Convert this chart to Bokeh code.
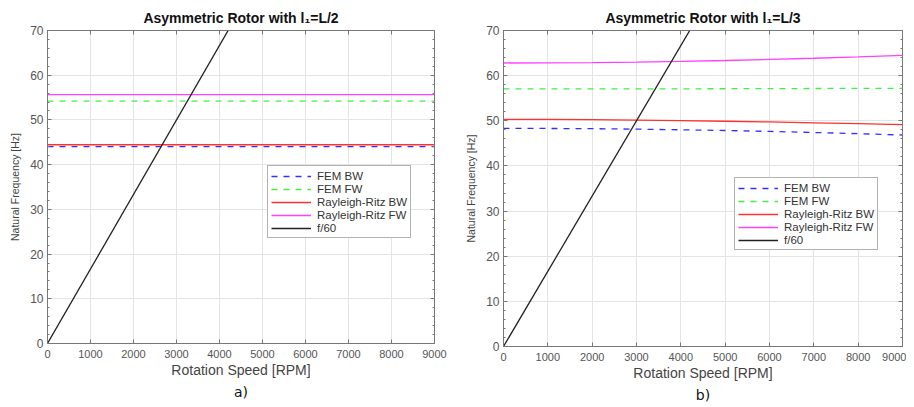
from bokeh.plotting import figure
from bokeh.layouts import row
from bokeh.models import (Range1d, FixedTicker, LinearAxis, Title, Legend, LegendItem)
from bokeh.embed import file_html
from bokeh.resources import INLINE

rpm = [0, 1000, 2000, 3000, 4000, 5000, 6000, 7000, 8000, 9000]

# Panel a) l1 = L/2
a_fem_bw = [44.05] * 10
a_fem_fw = [54.2] * 10
a_rr_bw = [44.45] * 10
a_rr_fw = [55.65] * 10

# Panel b) l1 = L/3
b_fem_bw = [48.3, 48.3, 48.25, 48.15, 48.0, 47.85, 47.65, 47.4, 47.15, 46.85]
b_fem_fw = [57.05, 57.05, 57.05, 57.07, 57.08, 57.1, 57.12, 57.15, 57.18, 57.2]
b_rr_bw = [50.3, 50.3, 50.25, 50.15, 50.05, 49.9, 49.75, 49.55, 49.35, 49.15]
b_rr_fw = [62.8, 62.85, 62.9, 63.0, 63.15, 63.35, 63.6, 63.85, 64.15, 64.5]

f60_x = [0, 9000]
f60_y = [x / 60 for x in f60_x]

x_ticks = [0, 1000, 2000, 3000, 4000, 5000, 6000, 7000, 8000, 9000]
y_ticks = [0, 10, 20, 30, 40, 50, 60, 70]
y_minor = list(range(0, 71, 2))

labels = ["FEM BW", "FEM FW", "Rayleigh-Ritz BW", "Rayleigh-Ritz FW", "f/60"]
colors = ["#3030ff", "#44ee44", "#ff3030", "#ff40ff", "#222222"]
dashes = ["dashed", "dashed", "solid", "solid", "solid"]

FONT = "Liberation Sans"
GREY = "#777777"


def style_axis(ax, show_labels):
    ax.major_label_text_font = FONT
    ax.major_label_text_color = "#555555"
    ax.axis_label_text_font = FONT
    ax.axis_label_text_font_style = "normal"
    ax.axis_label_text_color = "#444444"
    ax.axis_line_color = GREY
    ax.major_tick_in = 4
    ax.major_tick_out = 0
    ax.minor_tick_in = 2
    ax.minor_tick_out = 0
    ax.major_tick_line_color = GREY
    ax.minor_tick_line_color = GREY
    if not show_labels:
        ax.major_label_text_color = None
        ax.major_label_text_alpha = 0
        ax.major_label_text_font_size = "1px"
        ax.major_label_standoff = 0
        ax.axis_label = None


def make_panel(title, series, left, fw, right, top, fh, bottom, sub, leg_loc):
    p = figure(output_backend="svg", toolbar_location=None,
               frame_width=fw, frame_height=fh,
               min_border_left=left, min_border_right=right,
               min_border_top=top, min_border_bottom=bottom,
               x_range=Range1d(0, 9000), y_range=Range1d(0, 70))
    p.title.text = title
    p.title.align = "center"
    p.title.text_font = FONT
    p.title.text_font_size = "14px"
    p.title.text_font_style = "bold"
    p.title.text_color = "#111111"
    p.title.standoff = 10
    p.outline_line_color = GREY
    p.background_fill_color = "white"
    p.border_fill_color = "white"

    style_axis(p.xaxis[0], True)
    style_axis(p.yaxis[0], True)
    p.xaxis[0].major_label_text_font_size = "11px"
    p.yaxis[0].major_label_text_font_size = "12px"
    p.xaxis[0].axis_label_text_font_size = "14px"
    p.yaxis[0].axis_label_text_font_size = "10.5px"
    p.xaxis[0].ticker = FixedTicker(ticks=x_ticks)
    p.xaxis[0].minor_tick_line_color = None
    p.yaxis[0].ticker = FixedTicker(ticks=y_ticks, minor_ticks=y_minor)
    p.xaxis[0].axis_label = "Rotation Speed [RPM]"
    p.yaxis[0].axis_label = "Natural Frequency [Hz]"
    p.xaxis[0].major_label_standoff = 6
    p.yaxis[0].major_label_standoff = 4
    p.xaxis[0].axis_label_standoff = 1
    p.yaxis[0].axis_label_standoff = 6

    top_ax = LinearAxis(ticker=FixedTicker(ticks=x_ticks))
    style_axis(top_ax, False)
    top_ax.minor_tick_line_color = None
    right_ax = LinearAxis(ticker=FixedTicker(ticks=y_ticks, minor_ticks=y_minor))
    style_axis(right_ax, False)
    p.add_layout(top_ax, "above")
    p.add_layout(right_ax, "right")

    p.xgrid.ticker = FixedTicker(ticks=x_ticks)
    p.ygrid.ticker = FixedTicker(ticks=y_ticks)
    p.xgrid.grid_line_color = "#e4e4e4"
    p.ygrid.grid_line_color = "#e4e4e4"

    items = []
    for (xs, ys), lab, c, d in zip(series, labels, colors, dashes):
        r = p.line(xs, ys, line_color=c, line_width=1.3, line_dash=d)
        items.append(LegendItem(label=lab, renderers=[r]))

    leg = Legend(items=items, location=leg_loc)
    leg.label_text_font = FONT
    leg.label_text_font_size = "11.5px"
    leg.label_text_color = "#333333"
    leg.glyph_width = 40
    leg.glyph_height = 10
    leg.label_height = 13
    leg.label_standoff = 6
    leg.spacing = 0
    leg.padding = 3
    leg.margin = 0
    leg.border_line_color = "#666666"
    leg.background_fill_alpha = 1.0
    p.add_layout(leg, "center")

    st = Title(text=sub, align="center", text_font="DejaVu Sans",
               text_font_size="14px", text_font_style="normal",
               text_color="#111111", standoff=3)
    p.add_layout(st, "below")
    return p


pa = make_panel("Asymmetric Rotor with l\u2081=L/2",
                [(rpm, a_fem_bw), (rpm, a_fem_fw), (rpm, a_rr_bw), (rpm, a_rr_fw), (f60_x, f60_y)],
                47, 387, 26, 30, 313, 58, "a)", (220, 105))
pb = make_panel("Asymmetric Rotor with l\u2081=L/3",
                [(rpm, b_fem_bw), (rpm, b_fem_fw), (rpm, b_rr_bw), (rpm, b_rr_fw), (f60_x, f60_y)],
                43, 399, 4, 29, 316, 56, "b)", (231, 96))

layout = row(pa, pb, spacing=0)
open("out.html", "w").write(file_html(layout, INLINE))
